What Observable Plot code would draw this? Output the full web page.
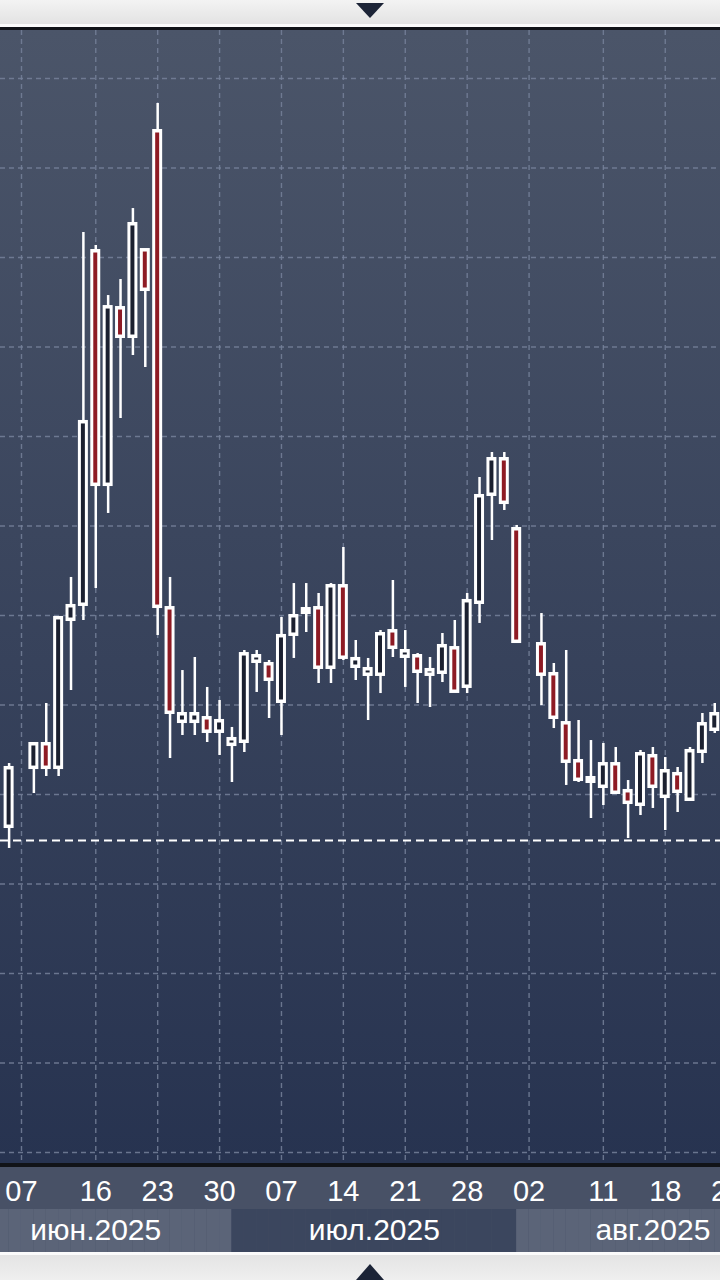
<!DOCTYPE html>
<html><head><meta charset="utf-8">
<script src="https://cdn.jsdelivr.net/npm/d3@7"></script>
<script src="https://cdn.jsdelivr.net/npm/@observablehq/plot@0.6"></script>
<style>
html,body{margin:0;padding:0;width:720px;height:1280px;overflow:hidden;background:#e6e6e6;font-family:"Liberation Sans",Arial,sans-serif;}
.abs{position:absolute;left:0;width:720px;overflow:hidden;}
#top{top:0;height:24px;background:linear-gradient(#f3f3f3,#e3e3e3);}
#topw{top:24px;height:3px;background:#fbfbfb;}
#topline{top:27px;height:3px;background:#111318;}
#plotwrap{top:30px;height:1133px;background:linear-gradient(#4b5569,#273350);}
#botline{top:1163px;height:4px;background:#111318;}
#days{top:1167px;height:42px;background:#485166;}
#months{top:1209px;height:43px;background:#485166;}
#botw{top:1252px;height:3px;background:#fbfbfb;}
#bottom{top:1255px;height:25px;background:linear-gradient(#e4e4e4,#efefef);}
.tri{position:absolute;left:356px;width:0;height:0;border-left:14px solid transparent;border-right:14px solid transparent;}
#tdown{top:3px;border-top:15px solid #1b2336;}
#tup{top:1264px;border-bottom:16px solid #1b2336;}
svg{overflow:hidden;display:block;}
</style>
</head><body>
<div class="abs" id="top"></div><div class="abs" id="topw"></div><div class="abs" id="topline"></div>
<div class="abs" id="plotwrap"></div>
<div class="abs" id="botline"></div>
<div class="abs" id="days"></div>
<div class="abs" id="months"></div>
<div class="abs" id="botw"></div>
<div class="abs" id="bottom"></div>
<div class="tri" id="tdown"></div><div class="tri" id="tup"></div>
<script>
// Trading sessions (x categories)
const sessions = [
 "2025-06-02","2025-06-03","2025-06-04","2025-06-05","2025-06-06","2025-06-07",
 "2025-06-09","2025-06-10","2025-06-11","2025-06-12","2025-06-13",
 "2025-06-16","2025-06-17","2025-06-18","2025-06-19","2025-06-20",
 "2025-06-23","2025-06-24","2025-06-25","2025-06-26","2025-06-27",
 "2025-06-30","2025-07-01","2025-07-02","2025-07-03","2025-07-04",
 "2025-07-07","2025-07-08","2025-07-09","2025-07-10","2025-07-11",
 "2025-07-14","2025-07-15","2025-07-16","2025-07-17","2025-07-18",
 "2025-07-21","2025-07-22","2025-07-23","2025-07-24","2025-07-25",
 "2025-07-28","2025-07-29","2025-07-30","2025-07-31","2025-08-01","2025-08-02",
 "2025-08-04","2025-08-05","2025-08-06","2025-08-07","2025-08-08",
 "2025-08-11","2025-08-12","2025-08-13","2025-08-14","2025-08-15",
 "2025-08-18","2025-08-19","2025-08-20","2025-08-21","2025-08-22",
 "2025-08-25","2025-08-26","2025-08-27","2025-08-28","2025-08-29"
];
// Week tick labels
const weekTicks = ["2025-06-07","2025-06-16","2025-06-23","2025-06-30","2025-07-07","2025-07-14",
 "2025-07-21","2025-07-28","2025-08-02","2025-08-11","2025-08-18","2025-08-25"];
const monthNames = {"06":"июн.2025","07":"июл.2025","08":"авг.2025"};
// Candles
const dates = ["2025-06-06","2025-06-09","2025-06-10","2025-06-11","2025-06-12","2025-06-13",
 "2025-06-16","2025-06-17","2025-06-18","2025-06-19","2025-06-20",
 "2025-06-23","2025-06-24","2025-06-25","2025-06-26","2025-06-27",
 "2025-06-30","2025-07-01","2025-07-02","2025-07-03","2025-07-04",
 "2025-07-07","2025-07-08","2025-07-09","2025-07-10","2025-07-11",
 "2025-07-14","2025-07-15","2025-07-16","2025-07-17","2025-07-18",
 "2025-07-21","2025-07-22","2025-07-23","2025-07-24","2025-07-25",
 "2025-07-28","2025-07-29","2025-07-30","2025-07-31","2025-08-01",
 "2025-08-04","2025-08-05","2025-08-06","2025-08-07","2025-08-08",
 "2025-08-11","2025-08-12","2025-08-13","2025-08-14","2025-08-15",
 "2025-08-18","2025-08-19","2025-08-20","2025-08-21","2025-08-22"];
const open = [96.31,102.90,105.70,102.90,119.44,121.12,
 160.78,134.52,154.41,151.06,160.89,
 174.19,120.89,108.04,108.04,108.60,
 106.93,105.47,105.81,114.75,114.64,
 110.28,117.77,120.22,120.89,114.08,
 123.35,114.19,113.30,113.30,118.32,
 115.31,115.53,113.30,113.52,116.42,
 111.96,121.34,133.41,137.54,129.72,
 116.87,113.52,108.04,103.80,101.34,
 100.78,103.46,100.45,98.77,104.36,
 99.66,102.35,99.33,104.69,107.15];
const high = [103.46,105.70,110.17,119.78,124.25,162.79,
 161.34,155.75,157.54,165.47,160.89,
 177.21,124.25,113.85,115.31,111.96,
 110.50,107.49,116.09,116.09,114.97,
 119.78,123.57,123.57,122.46,123.57,
 127.60,117.21,115.20,118.32,123.91,
 118.32,115.75,115.31,117.99,119.44,
 122.46,135.42,138.21,138.21,130.06,
 120.22,114.64,116.09,108.27,106.03,
 105.70,105.25,101.56,104.92,105.25,
 104.13,103.02,105.25,109.05,110.17];
const low = [93.97,100.11,102.01,102.01,111.62,119.44,
 123.02,131.40,142.01,149.05,147.71,
 117.77,104.02,106.59,106.59,105.81,
 104.36,101.34,104.69,111.40,108.49,
 106.59,115.20,118.10,112.40,112.40,
 114.97,112.74,108.27,111.28,115.31,
 111.96,110.17,109.72,112.51,111.40,
 111.28,119.11,128.38,131.73,116.98,
 109.94,107.37,101.01,101.34,97.32,
 98.77,100.11,95.08,97.65,98.44,
 95.98,97.99,99.33,103.46,106.82];
const close = [103.02,105.70,102.90,119.78,121.12,141.68,
 134.52,154.52,151.06,163.80,156.31,
 120.89,109.05,109.05,109.05,106.93,
 108.27,106.26,115.75,115.53,112.74,
 117.77,120.00,120.78,114.08,123.35,
 115.20,115.20,114.08,117.99,116.31,
 116.09,113.63,113.97,116.65,111.40,
 121.68,133.41,137.54,132.51,116.98,
 113.30,108.49,103.58,101.56,101.90,
 103.46,100.11,98.99,104.58,100.78,
 102.68,100.22,104.92,107.93,109.05];
const yGrid = [60,70,80,90,100,110,120,130,140,150,160,170,180];
const refLevel = 94.86;

const candles = dates.map((d,i)=>({date:d, open:open[i], high:high[i], low:low[i], close:close[i]}));

const band = 12.38;
const xScale = {type:"band", domain:sessions, range:[-47.1, -47.1 + band*sessions.length], padding:0, round:false, axis:null};
const gridStyle = {stroke:"#76819a", strokeWidth:1.4, strokeDasharray:"5,4", strokeOpacity:0.85};
const svgStyle = {background:"transparent", overflow:"hidden"};

const main = Plot.plot({
  width:720, height:1133, margin:0,
  style: svgStyle,
  x: xScale,
  y: {domain:[60,180], range:[1122,48], axis:null},
  marks:[
    Plot.ruleY(yGrid, gridStyle),
    Plot.ruleX(weekTicks, gridStyle),
    Plot.ruleY([refLevel], {stroke:"white", strokeWidth:2, strokeDasharray:"8,5"}),
    Plot.ruleX(candles, {x:"date", y1:"low", y2:"high", stroke:"white", strokeWidth:2.5}),
    Plot.barY(candles, {x:"date", y1:d=>Math.min(d.open,d.close), y2:d=>Math.max(d.open,d.close),
      fill:"white", stroke:"white", strokeWidth:2, insetLeft:2.2, insetRight:2.2}),
    Plot.barY(candles, {x:"date", y1:d=>Math.min(d.open,d.close), y2:d=>Math.max(d.open,d.close),
      fill:d=>d.close < d.open ? "#8e1b24" : "#1b2030", insetLeft:4.2, insetRight:4.2, insetTop:2.5, insetBottom:2.5})
  ]
});
document.getElementById("plotwrap").appendChild(main);

const days = Plot.plot({
  width:720, height:42, margin:0, style:svgStyle,
  x: xScale,
  marks:[
    Plot.text(weekTicks, {x:d=>d, text:d=>d.slice(8), fill:"white", fontSize:29, fontFamily:"Liberation Sans", frameAnchor:"middle", dy:3})
  ]
});
document.getElementById("days").appendChild(days);

const monthKeys = Object.keys(monthNames);
const monthMarks = monthKeys.map(m=>{
  const list = sessions.filter(s=>s.slice(5,7)===m);
  const mid = list[Math.floor(list.length/2)];
  return Plot.text([mid], {x:d=>d, text:()=>monthNames[m], fill:"white", fontSize:30, fontFamily:"Liberation Sans",
    frameAnchor:"middle", dy:-1, dx: list.length % 2 ? band/2 : 0});
});
const months = Plot.plot({
  width:720, height:43, margin:0, style:svgStyle,
  x: xScale,
  color:{type:"ordinal", domain:monthKeys, range:["#5b6478","#3b465e","#5b6478"]},
  marks:[
    Plot.cell(sessions, {x:d=>d, fill:d=>d.slice(5,7), dx:band/2, inset:0}),
    ...monthMarks
  ]
});
document.getElementById("months").appendChild(months);
</script>
</body></html>
